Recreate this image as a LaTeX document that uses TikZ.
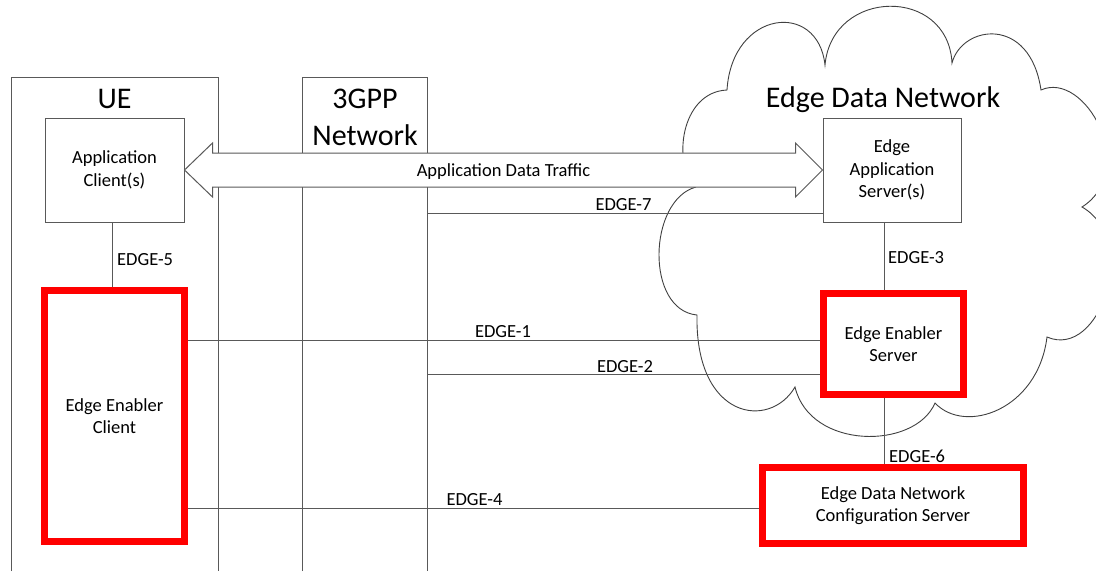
\documentclass[tikz,border=0pt]{standalone}
\usepackage{fontspec}
\setmainfont{Carlito}
\usetikzlibrary{calc}
\newcommand\smallfnt{\fontsize{18.5}{22.6}\selectfont}
\newcommand\titlefnt{\fontsize{30}{36.6}\selectfont}
\begin{document}
\begin{tikzpicture}[x=1pt,y=-1pt,
  ln/.style={draw=black!65, line width=1pt},
  gbox/.style={ln, fill=white, rectangle, inner sep=0pt, align=center, font=\smallfnt},
  rbox/.style={draw=red, line width=7pt, fill=white, rectangle, inner sep=0pt, align=center, font=\smallfnt},
  lbl/.style={font=\smallfnt, inner sep=0pt, anchor=base},
  ttl/.style={font=\titlefnt, inner sep=0pt, anchor=base, align=center},
  lobe/.style={draw=black!75, line width=0.9pt}
]
\useasboundingbox (0,0) rectangle (1096,571);

% frames
\draw[ln] (11,571) -- (11,77) -- (218,77) -- (218,571);
\draw[ln] (302,571) -- (302,77) -- (427,77) -- (427,571);

% cloud
\begin{scope}
\clip (0,0) rectangle (1096,571);
\draw[lobe] (696,187) .. controls (672,165) and (680,92) .. (727,90)
  .. controls (732,10) and (818,0) .. (825,65)
  .. controls (832,-12) and (948,-14) .. (952,63)
  .. controls (962,25) and (1030,15) .. (1041,90)
  .. controls (1085,70) and (1140,170) .. (1082,207)
  .. controls (1140,240) and (1100,360) .. (1047,337)
  .. controls (1038,410) and (965,435) .. (935,403)
  .. controls (915,450) and (810,450) .. (795,387)
  .. controls (770,430) and (695,420) .. (697,315)
  .. controls (645,310) and (648,200) .. (696,187);
\end{scope}

% titles
\node[ttl] (tue) at (114.5,108) {UE};
\node[ttl] (t3g) at (365,145) {3GPP\\Network};
\node[ttl] (tedn) at (883,107) {Edge Data Network};

% boxes
\node[gbox, minimum width=139pt, minimum height=104pt] (ac) at (114.5,170) {Application\\Client(s)};
\node[gbox, minimum width=138pt, minimum height=104pt] (eas) at (892,170) {Edge\\Application\\Server(s)};
\node[rbox, minimum width=140pt, minimum height=251pt] (eec) at (114.5,416) {Edge Enabler\\Client};
\node[rbox, minimum width=140pt, minimum height=101pt] (ees) at (893.5,344) {Edge Enabler\\Server};
\node[rbox, minimum width=261pt, minimum height=76pt] (cfg) at (893,505.5) {Edge Data Network\\Configuration Server};

% coordinates for connectors
\coordinate (x5) at (112,0);
\coordinate (x3) at (884,0);
\coordinate (g7) at (427,213);
\coordinate (y1) at (0,340);
\coordinate (g2) at (427,374);
\coordinate (y4) at (0,508);

% connectors
\draw[ln] (ac.south -| x5) -- (eec.north -| x5);
\draw[ln] (eas.south -| x3) -- (ees.north -| x3);
\draw[ln] (ees.south -| x3) -- (cfg.north -| x3);
\draw[ln] (g7) -- (g7 -| eas.west);
\draw[ln] (eec.east |- y1) -- (ees.west |- y1);
\draw[ln] (g2) -- (g2 -| ees.west);
\draw[ln] (eec.east |- y4) -- (cfg.west |- y4);

% double arrow
\draw[ln, fill=white] (ac.east) -- ++(28,-27) -- ++(0,10) -- ($(eas.west)+(-27,-17)$) -- ++(0,-10) -- (eas.west) -- ++(-27,27) -- ++(0,-10) -- ($(ac.east)+(28,17)$) -- ++(0,10) -- cycle;
\node[lbl] (adt) at (503.5,176) {Application Data Traffic};

% labels
\node[lbl, anchor=base west] (l5) at (117,265) {EDGE-5};
\node[lbl, anchor=base west] (l3) at (888,263) {EDGE-3};
\node[lbl, anchor=base west] (l6) at (889,462) {EDGE-6};
\node[lbl] (l7) at (623.5,210) {EDGE-7};
\node[lbl] (l1) at (503,337) {EDGE-1};
\node[lbl] (l2) at (625,372) {EDGE-2};
\node[lbl] (l4) at (474.5,505) {EDGE-4};
\end{tikzpicture}
\end{document}
